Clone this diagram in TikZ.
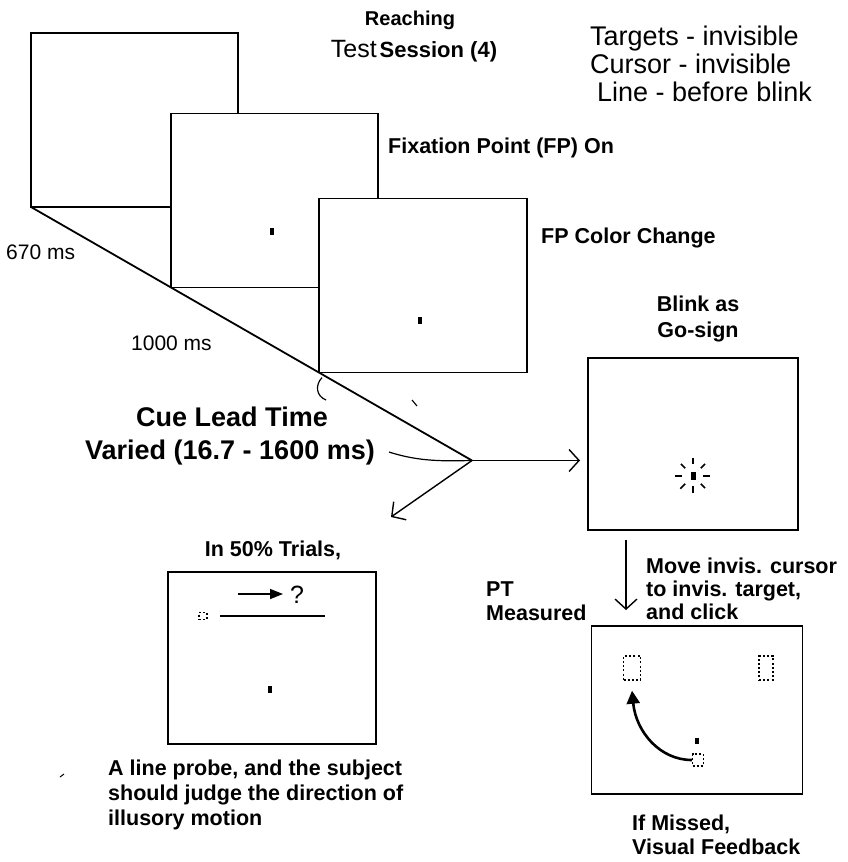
\documentclass[tikz,border=0pt]{standalone}
\usepackage{fontspec}
\setmainfont{Liberation Sans}
\usetikzlibrary{arrows.meta}
\begin{document}
\begin{tikzpicture}[x=1pt,y=-1pt,
  frame/.style={draw, line width=1.4pt, fill=white, inner sep=0pt, outer sep=0pt},
  bl/.style={font=\bfseries\fontsize{21.5}{25}\selectfont, inner sep=0pt},
  rg/.style={font=\fontsize{21}{25}\selectfont, inner sep=0pt},
  big/.style={font=\fontsize{27}{31}\selectfont, inner sep=0pt},
  vee/.style={-{Straight Barb[length=10pt,width=22pt,line width=1.4pt]}, line width=1.4pt},
  fpdot/.style={fill=black, minimum width=4pt, minimum height=7pt, inner sep=0pt},
  dbox/.style={draw, dash pattern=on 2pt off 2.2pt, line width=1.4pt, inner sep=0pt},
  ray/.style={line width=1.6pt}
]
\useasboundingbox (0,0) rectangle (848,862);

% stacked screens
\node[frame, minimum width=207pt, minimum height=174pt] (b1) at (134.5,120) {};
\node[frame, minimum width=207pt, minimum height=174pt] (b2) at (274.5,200.5) {};
\node[fpdot] (d2) at (272,231) {};
\node[frame, minimum width=208pt, minimum height=174pt] (b3) at (423,285.6) {};
\node[fpdot] (d3) at (420,320) {};

\coordinate (V) at (472,460.5);
\draw[line width=1.8pt] (b1.south west) -- (V);

% titles
\node[bl, font=\bfseries\fontsize{20}{24}\selectfont] (reach) at (410,20) {Reaching};
\node[inner sep=0pt, anchor=base] (test) at (414,57) {{\fontsize{25}{29}\selectfont Test\kern3pt}{\bfseries\fontsize{22}{26}\selectfont Session (4)}};
\node[big, anchor=base west] (t1) at (590,45) {Targets - invisible};
\node[big, anchor=base west] (t2) at (590,73) {Cursor - invisible};
\node[big, anchor=base west] (t3) at (597,101) {Line - before blink};

\node[bl, anchor=base west] (fpon) at (388,153) {Fixation Point (FP) On};
\node[bl, anchor=base west] (fpcc) at (541,243) {FP Color Change};
\node[rg, anchor=base west] (ms670) at (6,259) {670 ms};
\node[rg, anchor=base west] (ms1000) at (131,350) {1000 ms};

\node[inner sep=0pt, font=\bfseries\fontsize{27}{31}\selectfont, anchor=base] (cue1) at (232,426) {Cue Lead Time};
\node[inner sep=0pt, font=\bfseries\fontsize{27}{31}\selectfont, anchor=base] (cue2) at (230,459) {Varied (16.7 - 1600 ms)};

% small curves
\draw[line width=1.2pt] (b3.south west) ++(3,5) .. controls (315,385) and (316,396) .. (326,400);
\draw[line width=1.2pt] (cue2.east) ++(14,0) .. controls (420,462) and (445,461) .. (V);
\draw[line width=1.1pt] (412,400) -- (417,406);
\draw[line width=1pt] (60,777) -- (64,774);

% blink screen
\node[bl, anchor=base] (blink1) at (698,311) {Blink as};
\node[bl, anchor=base] (blink2) at (698,337) {Go-sign};
\node[frame, minimum width=210pt, minimum height=172pt] (blink) at (693,444) {};
\node[fill=black, minimum width=5pt, minimum height=8pt, inner sep=0pt] (bd) at (693,476) {};
\foreach \a/\ri/\ro in {90/10/17, 45/11/17, 0/10/17, -45/11/17, -90/12/18, -135/11/17, 180/11/18, 135/11/18}
  \draw[ray] (bd.center) ++(\a:\ri) -- ++(\a:\ro-\ri);

\draw[vee] (V) -- (580,460.5);
\draw[vee] (V) -- (391,517);

% line probe screen
\node[bl, anchor=base] (half) at (273,556) {In 50\% Trials,};
\node[frame, minimum width=208pt, minimum height=172pt] (probe) at (272,658) {};
\coordinate (pa) at (238,594);
\coordinate (pb) at (283,594);
\draw[line width=1.5pt, -{Triangle[length=13pt,width=10pt]}] (pa) -- (pb);
\node[inner sep=0pt, font=\fontsize{25}{28}\selectfont, anchor=base] (q) at (297,603) {?};
\coordinate (la) at (220,616);
\coordinate (lb) at (325,616);
\draw[line width=1.4pt] (la) -- (lb);
\node[dbox, minimum width=8pt, minimum height=7pt] (ps) at (203,616) {};
\node[fpdot] (pd) at (270,689) {};
\node[bl, anchor=base west] (ptxt1) at (108,775) {A line probe, and the subject};
\node[bl, anchor=base west] (ptxt2) at (108,800) {should judge the direction of};
\node[bl, anchor=base west] (ptxt3) at (108,825) {illusory motion};

% reach screen
\coordinate (da) at (626,540);
\coordinate (db) at (626,610);
\draw[vee] (da) -- (db);
\node[bl, anchor=base west] (pt1) at (486,596) {PT};
\node[bl, anchor=base west] (pt2) at (486,620) {Measured};
\node[bl, anchor=base west] (mv1) at (646,573) {Move invis. cursor};
\node[bl, anchor=base west] (mv2) at (646,596) {to invis. target,};
\node[bl, anchor=base west] (mv3) at (646,619) {and click};
\node[frame, minimum width=211pt, minimum height=168pt] (reach2) at (697,710) {};
\node[dbox, minimum width=17pt, minimum height=24pt] (tg1) at (632,668) {};
\node[dbox, minimum width=14pt, minimum height=24pt] (tg2) at (766,668) {};
\node[fill=black, minimum width=4pt, minimum height=6pt, inner sep=0pt] (cd) at (697,741) {};
\node[dbox, minimum width=11pt, minimum height=12pt] (cb) at (698,760) {};
\draw[line width=2.6pt, -{Triangle[length=13pt,width=13pt]}] (cb.west) .. controls (660,760) and (636,732) .. ([yshift=-10pt]tg1.south);
\node[bl, anchor=base west] (miss1) at (632,830) {If Missed,};
\node[bl, anchor=base west] (miss2) at (632,854) {Visual Feedback};
\end{tikzpicture}
\end{document}
